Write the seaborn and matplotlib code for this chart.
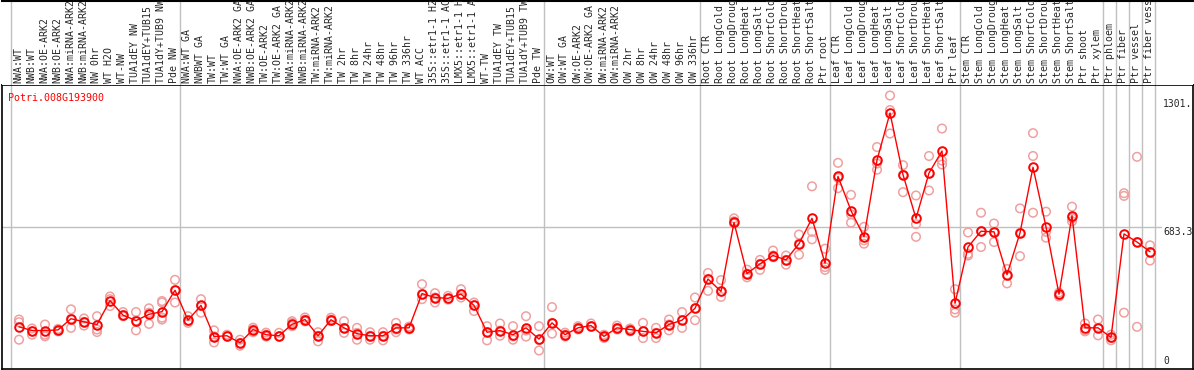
import numpy as np
import pandas as pd
import seaborn as sns
from matplotlib import pyplot as plt
from matplotlib import transforms

sns.set_style('white')
plt.rcParams['font.family'] = ['DejaVu Sans Mono']

# sample labels (left to right)
samples = ["NWA:WT", "NWB:WT", "NWA:OE-ARK2", "NWB:OE-ARK2", "NWA:miRNA-ARK2", "NWB:miRNA-ARK2",
           "NW 0hr", "WT H2O", "WT-NW", "TUA1dEY NW", "TUA1dEY+TUB15", "TUA1dY+TUB9 NW", "Pde NW",
           "NWA:WT GA", "NWBWT GA", "TW:WT", "TW:WT GA", "NWA:OE-ARK2 GA", "NWB:OE-ARK2 GA",
           "TW:OE-ARK2", "TW:OE-ARK2 GA", "NWA:miRNA-ARK2 GA", "NWB:miRNA-ARK2 GA",
           "TW:miRNA-ARK2", "TW:miRNA-ARK2 GA",
           "TW 2hr", "TW 8hr", "TW 24hr", "TW 48hr", "TW 96hr", "TW 336hr", "WT ACC",
           "35S::etr1-1 H2O", "35S::etr1-1 ACC", "LMX5::etr1-1 H2O", "LMX5::etr1-1 ACC", "WT-TW",
           "TUA1dEY TW", "TUA1dEY+TUB15", "TUA1dY+TUB9 TW", "Pde TW",
           "OW:WT", "OW:WT GA", "OW:OE-ARK2", "OW:OE-ARK2 GA", "OW:miRNA-ARK2", "OW:miRNA-ARK2 GA",
           "OW 2hr", "OW 8hr", "OW 24hr", "OW 48hr", "OW 96hr", "OW 336hr",
           "Root CTR", "Root LongCold", "Root LongDrought", "Root LongHeat", "Root LongSalt",
           "Root ShortCold", "Root ShortDrought", "Root ShortHeat", "Root ShortSalt", "Ptr root",
           "Leaf CTR", "Leaf LongCold", "Leaf LongDrought", "Leaf LongHeat", "Leaf LongSalt",
           "Leaf ShortCold", "Leaf ShortDrought", "Leaf ShortHeat", "Leaf ShortSalt", "Ptr leaf",
           "Stem CTR", "Stem LongCold", "Stem LongDrought", "Stem LongHeat", "Stem LongSalt",
           "Stem ShortCold", "Stem ShortDrought", "Stem ShortHeat", "Stem ShortSalt", "Ptr shoot",
           "Ptr xylem", "Ptr phloem", "Ptr fiber", "Ptr vessel", "Ptr fiber vessel"]

means = [203, 185, 185, 188, 242, 227, 214, 329, 259, 233, 263, 276, 379,
         235, 306, 156, 160, 126, 190, 165, 160, 215, 238, 160, 237, 198, 170,
         160, 160, 198, 198, 363, 344, 340, 360, 306, 177, 185, 165, 198, 144,
         222, 165, 198, 209, 157, 198, 190, 181, 174, 214, 235, 292,
         433, 373, 705, 459, 506, 546, 525, 603, 725, 509,
         927, 762, 636, 1005, 1232, 935, 725, 943, 1049, 316,
         587, 663, 660, 454, 655, 971, 684, 360, 738, 198, 198,
         152, 650, 611, 564]

reps = [[238, 225, 141], [195, 165, 181], [214, 165, 157], [193, 181, 190], [287, 198, 242],
        [243, 209, 227], [254, 190, 178], [349, 303, 336], [274, 254, 259], [274, 186, 233],
        [292, 217, 271], [327, 320, 247, 238], [429, 379, 320],
        [254, 230, 222], [336, 303, 271], [186, 128, 157], [165, 157, 160], [141, 112, 125],
        [190, 177, 199], [175, 165, 156], [174, 157, 156], [230, 222, 206], [248, 238, 229],
        [177, 133, 160], [247, 230, 238], [230, 174, 198], [198, 141, 174], [177, 141, 160],
        [177, 138, 160], [222, 190, 177], [204, 198, 190], [408, 336, 360], [365, 320, 344],
        [352, 336, 334], [384, 344, 360], [320, 279, 306], [206, 138, 177], [219, 160, 185],
        [206, 141, 157], [254, 185, 156], [206, 89, 139],
        [298, 170, 222], [175, 165, 156], [206, 190, 199], [219, 206, 204], [165, 149, 157],
        [209, 190, 198], [190, 181, 195], [222, 149, 181], [198, 149, 174], [238, 186, 214],
        [274, 198, 235], [344, 235, 292],
        [462, 376, 433], [428, 347, 373], [725, 711, 700], [478, 441, 459], [525, 477, 506],
        [570, 538, 546], [546, 502, 525], [647, 550, 603], [879, 660, 624], [579, 490, 477],
        [992, 919, 870], [838, 744, 704], [684, 619, 603], [1068, 989, 959], [1316, 1246, 1133],
        [981, 851, 935], [835, 697, 636], [1025, 859, 943], [1157, 1003, 984], [384, 287, 271],
        [657, 554, 546], [752, 663, 587], [700, 660, 611], [481, 454, 412], [773, 655, 543],
        [1135, 1025, 752], [757, 660, 632], [368, 355, 349], [781, 725, 711], [219, 186, 181],
        [238, 198, 162],
        [165, 149, 138], [846, 833, 271], [1021, 203, 611], [595, 563, 522]]

# group separators (between sample positions)
separators = [-0.6, 12.4, 40.4, 52.4, 62.4, 72.4, 83.4, 84.4, 85.4, 86.4, 87.4]
ymax = 1366.6
yticks = [1301, 683.3, 0]
ytick_labels = ['1301.', '683.3', '0']
gene = 'Potri.008G193900'

df_mean = pd.DataFrame({'pos': np.arange(len(means)), 'value': means})
df_rep = pd.DataFrame([(i, v) for i, r in enumerate(reps) for v in r], columns=['pos', 'value'])

W, H = 1194, 370
fig = plt.figure(figsize=(W / 100, H / 100), dpi=100)
top_px = 85
ax = fig.add_axes([1.5 / W, 1.0 / H, (1193 - 1.5) / W, (369 - top_px) / H])
axh = fig.add_axes([1.5 / W, (H - top_px) / H, (1193 - 1.5) / W, (top_px - 0.5) / H], sharex=ax)

xlim = ((1.5 - 19) / 13, (1193 - 19) / 13)

for s in separators:
    ax.axvline(s, color='#c0c0c0', lw=1, zorder=0)
    axh.axvline(s, color='#c0c0c0', lw=1, zorder=0)
ax.axhline(683.3, xmin=0, xmax=(1161 - 1.5) / (1193 - 1.5), color='#c0c0c0', lw=1, zorder=0)

sns.scatterplot(x='pos', y='value', data=df_rep, ax=ax, marker='o', s=38,
                color='#f0a0a0', linewidth=1.1, zorder=2, legend=False)
ax.collections[-1].set_facecolor('none')
ax.collections[-1].set_edgecolor('#f0a0a0')

sns.lineplot(x='pos', y='value', data=df_mean, ax=ax, color='red', lw=1,
             marker='o', markersize=6.2, markerfacecolor='none',
             markeredgecolor='red', markeredgewidth=1.4, zorder=3)

ax.set_xlim(*xlim)
ax.set_ylim(0, ymax)
ax.set_xticks([])
ax.set_yticks([])
ax.set_xlabel('')
ax.set_ylabel('')
for sp in ax.spines.values():
    sp.set_color('black')
    sp.set_linewidth(1.2)

# right-hand value labels
xr = (1163 - 19) / 13
ax.text(xr, yticks[0], ytick_labels[0], fontsize=7, va='top', ha='left')
ax.text(xr, yticks[1], ytick_labels[1], fontsize=7, va='top', ha='left')
ax.text(xr, yticks[2] + 15, ytick_labels[2], fontsize=7, va='bottom', ha='left')

ax.text(0.0055, 0.955, gene, transform=ax.transAxes, color='red', fontsize=7.2,
        va='center', ha='left')

# header with rotated sample names
axh.set_ylim(0, 1)
axh.set_yticks([])
axh.tick_params(bottom=False, labelbottom=False)
axh.spines['left'].set_visible(False)
axh.spines['right'].set_visible(False)
axh.spines['bottom'].set_visible(False)
axh.spines['top'].set_color('black')
axh.spines['top'].set_linewidth(1.5)
trans = transforms.blended_transform_factory(axh.transData, axh.transAxes)
for i, lab in enumerate(samples):
    axh.text(i - 0.08, 0.025, lab, rotation=90, fontsize=7.1, ha='center', va='bottom',
             transform=trans, clip_on=True)

fig.savefig('out.png', dpi=100)
